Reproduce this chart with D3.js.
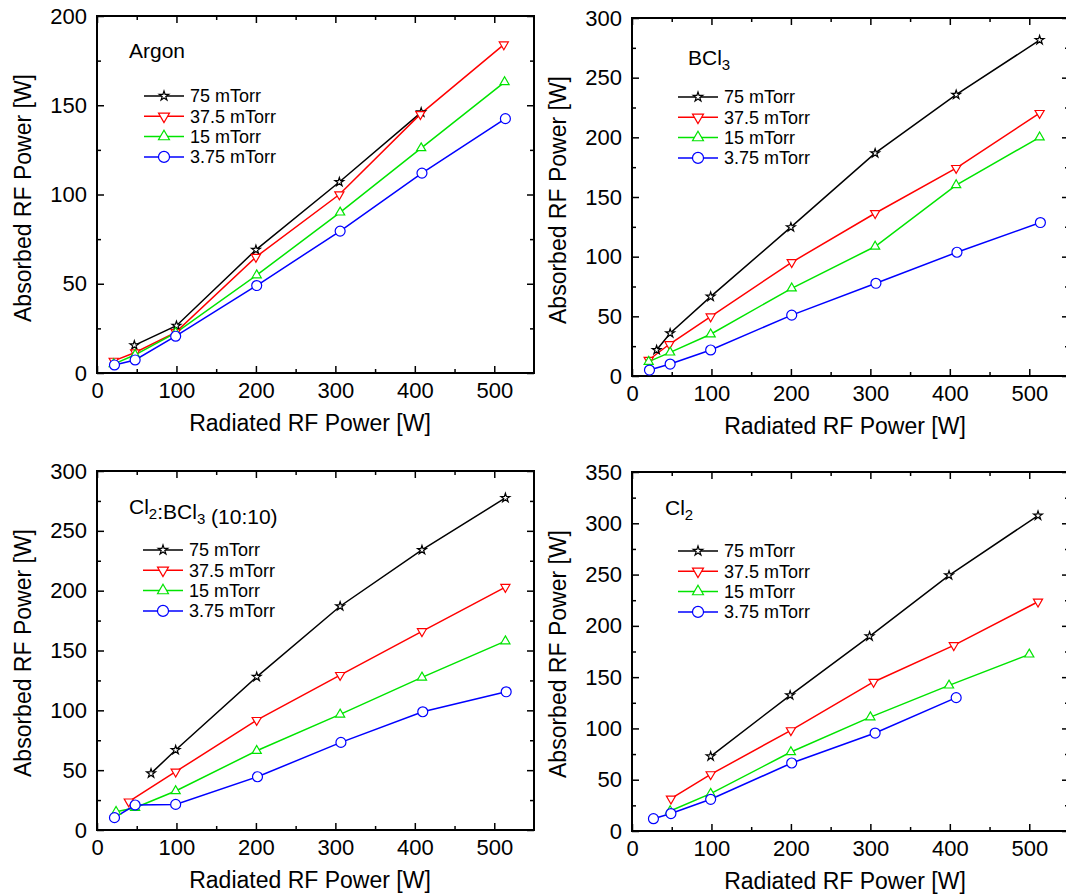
<!DOCTYPE html>
<html>
<head>
<meta charset="utf-8">
<script src="https://cdn.jsdelivr.net/npm/d3@7"></script>
<style>
  body { margin: 0; background: #fff; }
  svg { display: block; font-family: "Liberation Sans", Arial, sans-serif; }
</style>
</head>
<body>
<div id="chart"></div>
<script>
// Absorbed vs radiated RF power, four gases at four pressures

const pressureLabels = ["75 mTorr", "37.5 mTorr", "15 mTorr", "3.75 mTorr"];
const xTicks = [0, 100, 200, 300, 400, 500];
const yMaxima = [200, 300, 300, 350];

// [radiated W, absorbed W]
const argon75 = [[47, 15.5], [100, 26.5], [200, 69], [305, 107], [408, 146]];
const argon37 = [[21, 6.8], [48, 11.5], [99, 22.8], [200, 65], [305, 100], [407, 145], [512, 184]];
const argon15 = [[21, 5], [48, 10.2], [99, 22.5], [201, 54.8], [306, 90], [408, 126], [513, 163]];
const argon4 = [[22, 4.5], [48, 7.3], [99, 20.6], [201, 49], [306, 79.5], [409, 112], [514, 142.5]];

const bcl75 = [[31, 21.8], [48, 35.8], [99, 66.5], [200, 124.7], [306, 186.7], [408, 235.7], [513, 281.5]];
const bcl37 = [[21, 13.4], [47, 26.6], [99, 49.8], [201, 95.3], [306, 136.4], [408, 174.2], [513, 220.3]];
const bcl15 = [[21, 12], [48, 19.8], [99, 35], [201, 73.5], [306, 108.5], [408, 160], [513, 200]];
const bcl4 = [[22, 5], [48, 10], [99, 21.8], [201, 51], [307, 77.7], [409, 103.7], [514, 128.6]];

const mix75 = [[68, 47.3], [99, 66.8], [201, 128], [306, 187], [409, 234], [514, 277.5]];
const mix37 = [[40, 23.7], [99, 48.7], [201, 91.8], [306, 129.4], [409, 166], [514, 203]];
const mix15 = [[24, 15.3], [48, 18.6], [99, 32.6], [201, 66.2], [306, 96.6], [409, 127.5], [514, 157.8]];
const mix4 = [[22, 10.3], [48, 20.9], [99, 21.4], [202, 44.5], [307, 73.2], [410, 98.8], [515, 115.5]];

const cl75 = [[99, 72.8], [199, 132.3], [299, 189.8], [399, 249.3], [511, 307.5]];
const cl37 = [[49, 31.5], [99, 55.2], [200, 98.1], [304, 145.3], [405, 181], [511, 223.5]];
const cl15 = [[48, 19.5], [99, 36.4], [200, 77], [300, 111], [399, 142], [500, 172.2]];
const cl4 = [[27, 12], [49, 17], [99, 30.9], [201, 66.3], [306, 95.5], [408, 130]];

const seriesColors = ["#000000", "#ff0000", "#00e400", "#0000ff"];

const width = 1066,
  height = 894,
  plotWidth = 437;

// panel frames and text placement (relative to the frame)
const panels = [
  { left: 97, top: 16, h: 357, yMax: yMaxima[0], series: [argon75, argon37, argon15, argon4],
    title: [["Argon", false]], titleX: 32, titleY: 42, legendX: 47, legendY: 80 },
  { left: 632, top: 18, h: 358, yMax: yMaxima[1], series: [bcl75, bcl37, bcl15, bcl4],
    title: [["BCl", false], ["3", true]], titleX: 56, titleY: 47, legendX: 46, legendY: 79 },
  { left: 97, top: 471, h: 359, yMax: yMaxima[2], series: [mix75, mix37, mix15, mix4],
    title: [["Cl", false], ["2", true], [":BCl", false], ["3", true], [" (10:10)", false]],
    titleX: 32, titleY: 43, legendX: 46, legendY: 79 },
  { left: 632, top: 472, h: 359, yMax: yMaxima[3], series: [cl75, cl37, cl15, cl4],
    title: [["Cl", false], ["2", true]], titleX: 33, titleY: 43, legendX: 46, legendY: 79 }
];

const svg = d3
  .select("#chart")
  .append("svg")
  .attr("width", width)
  .attr("height", height);

svg
  .append("rect")
  .attr("width", width)
  .attr("height", height)
  .attr("fill", "#fff");

// marker path for series i
function marker(i, big) {
  const types = [d3.symbolStar, d3.symbolTriangle, d3.symbolTriangle, d3.symbolCircle];
  const sizes = big ? [28, 52, 52, 95] : [24, 36, 36, 78];
  return d3.symbol().type(types[i]).size(sizes[i])();
}

function drawPanel(p) {
  const g = svg
    .append("g")
    .attr("transform", "translate(" + p.left + "," + p.top + ")");

  const x = d3.scaleLinear().domain([0, 550]).range([0, plotWidth]);
  const y = d3.scaleLinear().domain([0, p.yMax]).range([p.h, 0]);

  const xMinor = d3.range(50, 550, 100);
  const yMajor = d3.range(0, p.yMax + 1, 50);
  const yMinor = d3.range(25, p.yMax, 50);

  // major ticks + labels
  g.append("g")
    .attr("class", "x axis")
    .attr("transform", "translate(0," + p.h + ")")
    .call(d3.axisBottom(x).tickValues(xTicks).tickSize(-7).tickPadding(9));

  g.append("g")
    .attr("class", "y axis")
    .call(d3.axisLeft(y).tickValues(yMajor).tickSize(-7).tickPadding(10));

  // minor ticks, and the mirrored ticks on top / right
  g.append("g")
    .attr("transform", "translate(0," + p.h + ")")
    .call(d3.axisBottom(x).tickValues(xMinor).tickSize(-4).tickFormat(""));
  g.append("g").call(d3.axisLeft(y).tickValues(yMinor).tickSize(-4).tickFormat(""));
  g.append("g").call(d3.axisTop(x).tickValues(xTicks).tickSize(-7).tickFormat(""));
  g.append("g").call(d3.axisTop(x).tickValues(xMinor).tickSize(-4).tickFormat(""));
  g.append("g")
    .attr("transform", "translate(" + plotWidth + ",0)")
    .call(d3.axisRight(y).tickValues(yMajor).tickSize(-7).tickFormat(""));
  g.append("g")
    .attr("transform", "translate(" + plotWidth + ",0)")
    .call(d3.axisRight(y).tickValues(yMinor).tickSize(-4).tickFormat(""));

  g.selectAll(".domain").remove();
  g.selectAll(".tick line").attr("stroke", "#000").attr("stroke-width", 1.5);
  g.selectAll(".tick text")
    .attr("fill", "#000")
    .style("font-size", "22px")
    .style("font-family", "'Liberation Sans', Arial, sans-serif");

  // frame
  g.append("rect")
    .attr("width", plotWidth)
    .attr("height", p.h)
    .attr("fill", "none")
    .attr("stroke", "#000")
    .attr("stroke-width", 2);

  // axis titles
  g.append("text")
    .attr("x", 213)
    .attr("y", p.h + 58)
    .attr("text-anchor", "middle")
    .style("font-size", "23px")
    .text("Radiated RF Power [W]");

  g.append("text")
    .attr("transform", "translate(-66," + 182 + ") rotate(-90)")
    .attr("text-anchor", "middle")
    .style("font-size", "23px")
    .text("Absorbed RF Power [W]");

  // gas name
  const title = g
    .append("text")
    .attr("x", p.titleX)
    .attr("y", p.titleY)
    .style("font-size", "21px");
  p.title.forEach(function(part) {
    title
      .append("tspan")
      .attr("dy", part[1] ? 5 : 0)
      .style("font-size", part[1] ? "15px" : "21px")
      .text(part[0]);
    if (part[1]) title.append("tspan").attr("dy", -5).text("");
  });

  const line = d3
    .line()
    .x(function(d) {
      return x(d[0]);
    })
    .y(function(d) {
      return y(d[1]);
    });

  // series lines then markers
  p.series.forEach(function(data, i) {
    g.append("path")
      .datum(data)
      .attr("fill", "none")
      .attr("stroke", seriesColors[i])
      .attr("stroke-width", 1.5)
      .attr("d", line);
  });

  p.series.forEach(function(data, i) {
    g.append("g")
      .selectAll("path")
      .data(data)
      .join("path")
      .attr("d", marker(i, false))
      .attr("transform", function(d) {
        return "translate(" + x(d[0]) + "," + y(d[1]) + ")" + (i === 1 ? " rotate(180)" : "");
      })
      .attr("fill", "#fff")
      .attr("stroke", seriesColors[i])
      .attr("stroke-width", 1.2);
  });

  // legend
  const legend = g
    .append("g")
    .attr("transform", "translate(" + p.legendX + "," + p.legendY + ")");

  pressureLabels.forEach(function(label, i) {
    const row = legend.append("g").attr("transform", "translate(0," + i * 20.3 + ")");
    row
      .append("line")
      .attr("x1", 0)
      .attr("x2", 40)
      .attr("stroke", seriesColors[i])
      .attr("stroke-width", 1.5);
    row
      .append("path")
      .attr("d", marker(i, true))
      .attr("transform", "translate(20,0)" + (i === 1 ? " rotate(180)" : ""))
      .attr("fill", "#fff")
      .attr("stroke", seriesColors[i])
      .attr("stroke-width", 1.2);
    row
      .append("text")
      .attr("x", 46)
      .attr("dy", "0.35em")
      .style("font-size", "18px")
      .text(label);
  });
}

panels.forEach(drawPanel);
</script>
</body>
</html>
